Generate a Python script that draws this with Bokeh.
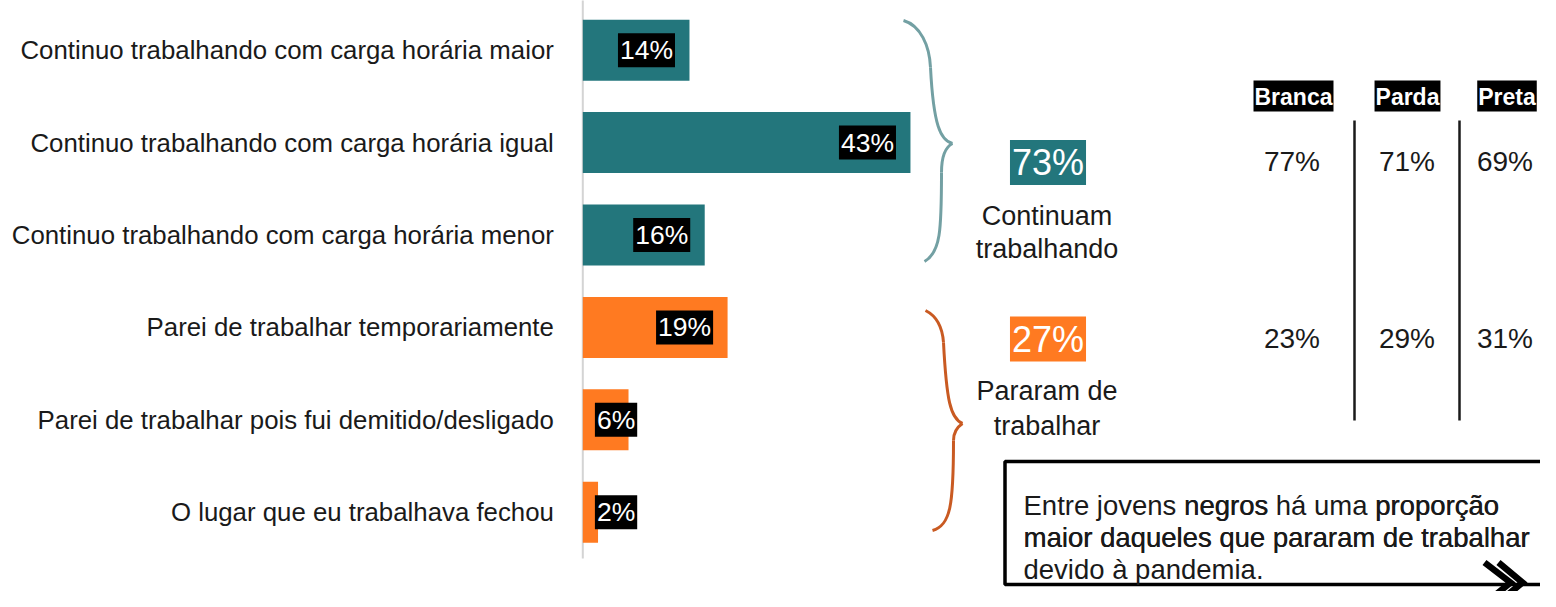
from bokeh.plotting import figure
from bokeh.models import Range1d
from bokeh.core.properties import value
from bokeh.embed import file_html
from bokeh.resources import INLINE

# ---------------- data ----------------
categories = [
    "Continuo trabalhando com carga horária maior",
    "Continuo trabalhando com carga horária igual",
    "Continuo trabalhando com carga horária menor",
    "Parei de trabalhar temporariamente",
    "Parei de trabalhar pois fui demitido/desligado",
    "O lugar que eu trabalhava fechou",
]
values = [14, 43, 16, 19, 6, 2]
bar_group = [0, 0, 0, 1, 1, 1]

group_totals = [73, 27]
group_line1 = ["Continuam", "Pararam de"]
group_line2 = ["trabalhando", "trabalhar"]

races = ["Branca", "Parda", "Preta"]
race_continuam = [77, 71, 69]
race_pararam = [23, 29, 31]

note_line1 = [("Entre jovens", False), ("negros", True), ("há uma", False), ("proporção", True)]
note_line2 = "maior daqueles que pararam de trabalhar"
note_line3 = "devido à pandemia."

# ---------------- style ----------------
TEAL = "#23767c"
ORANGE = "#ff7a21"
GROUP_COLORS = [TEAL, ORANGE]
BRACE_COLORS = ["#73a0a3", "#c95a22"]
TXT = "#1a1a1a"
FONT = value("Liberation Sans")

W, H = 1540, 591
PX0, PY0 = 0, 0          # picture origin
AX, SC = 582.3, 7.62     # x pixel of 0 %, pixels per %
ROW0, ROWD = 49.7, 92.4  # y pixel of first row centre, row pitch

p = figure(width=W, height=H, output_backend="svg", toolbar_location=None, tools="",
           x_range=Range1d((PX0 - AX) / SC, (PX0 + W - AX) / SC),
           y_range=Range1d((PY0 + H - ROW0) / ROWD, (PY0 - ROW0) / ROWD),
           x_axis_type=None, y_axis_type=None, min_border=0)
p.outline_line_color = None
p.background_fill_color = "white"
p.border_fill_color = "white"
p.extra_x_ranges = {"px": Range1d(PX0, PX0 + W)}
p.extra_y_ranges = {"px": Range1d(PY0 + H, PY0)}

rows = list(range(len(categories)))

# axis line
p.segment(x0=[0], x1=[0], y0=[rows[0] - 0.6], y1=[rows[-1] + 0.5], line_color="#d4d4d4", line_width=2)

# bars
p.hbar(y=rows, left=0, right=values, height=0.66,
       fill_color=[GROUP_COLORS[g] for g in bar_group], line_color=None)

# bar value labels (black boxes)
lab_x = [max(v - 1.9, 7.14) for v in values]
p.text(x=lab_x, y=rows, text=[f"{v}%" for v in values], text_align="right", text_baseline="middle",
       text_font=FONT, text_font_size="26.5px", text_color="white",
       background_fill_color="black", padding=2)

# category labels
p.text(x=[-3.8] * len(rows), y=rows, text=categories, text_align="right", text_baseline="middle",
       text_font=FONT, text_font_size="25.8px", text_color=TXT)

# braces
braces = [
    [((903, 20), (920, 25), (929, 45), (930, 67)),
     ((930, 67), (933, 125), (940, 140), (952, 143)),
     ((952, 143), (944, 147), (941, 158), (941, 172)),
     ((941, 172), (941, 230), (940, 252), (924, 261))],
    [((925, 310), (937, 316), (942, 328), (943, 342)),
     ((943, 342), (946, 400), (950, 418), (962, 423)),
     ((962, 423), (956, 427), (953, 432), (953, 440)),
     ((953, 440), (953, 505), (950, 525), (932, 530))],
]
for b, col in zip(braces, BRACE_COLORS):
    p.bezier(x0=[s[0][0] for s in b], y0=[s[0][1] for s in b],
             cx0=[s[1][0] for s in b], cy0=[s[1][1] for s in b],
             cx1=[s[2][0] for s in b], cy1=[s[2][1] for s in b],
             x1=[s[3][0] for s in b], y1=[s[3][1] for s in b],
             line_color=col, line_width=3, x_range_name="px", y_range_name="px")

# group totals
gx = 1047.5
for tot, l1, l2, col, yc, yb1, yb2 in zip(group_totals, group_line1, group_line2, GROUP_COLORS,
                                           [162, 338.5], [215, 390], [248, 425]):
    p.text(x=[gx], y=[yc], text=[f"{tot}%"], text_align="center", text_baseline="middle",
           text_font=FONT, text_font_size="36px", text_color="white",
           background_fill_color=col, padding=2, x_range_name="px", y_range_name="px")
    p.text(x=[gx - 1, gx - 1], y=[yb1, yb2], text=[l1, l2], text_align="center",
           text_baseline="alphabetic", text_font=FONT, text_font_size="27px", text_color=TXT,
           x_range_name="px", y_range_name="px")

# race table (shifted slightly left so that it fits inside the canvas)
TX = -11
rx = [1304 + TX, 1418 + TX, 1517.5 + TX]
p.text(x=rx, y=[95.5] * 3, text=races, text_align="center", text_baseline="middle",
       text_font=FONT, text_font_size="23px", text_font_style="bold", text_color="white",
       background_fill_color="black", padding=dict(left=1, right=1, top=3, bottom=2),
       x_range_name="px", y_range_name="px")
vx = [1302.5 + TX, 1417.5 + TX, 1515.5 + TX]
p.text(x=vx, y=[161] * 3, text=[f"{v}%" for v in race_continuam], text_align="center",
       text_baseline="middle", text_font=FONT, text_font_size="28px", text_color=TXT,
       x_range_name="px", y_range_name="px")
p.text(x=vx, y=[337.5] * 3, text=[f"{v}%" for v in race_pararam], text_align="center",
       text_baseline="middle", text_font=FONT, text_font_size="28px", text_color=TXT,
       x_range_name="px", y_range_name="px")
p.segment(x0=[1365 + TX, 1470 + TX], x1=[1365 + TX, 1470 + TX], y0=[120, 120], y1=[420, 420],
          line_color="#1a1a1a", line_width=2.5, x_range_name="px", y_range_name="px")

# note box
p.quad(left=[1004.5], right=[1575], top=[461], bottom=[584], fill_color=None,
       line_color="black", line_width=3.5, x_range_name="px", y_range_name="px")
NFS = 27.5
em = {"Entre jovens": 5.558, "negros": 3.057, "há uma": 3.335, "proporção": 4.502}
SPACE = 0.278
nx = 1023
for seg, bold in note_line1:
    xs = [nx, nx + 0.35] if bold else [nx]
    p.text(x=xs, y=[504.5] * len(xs), text=[seg] * len(xs), text_align="left", text_baseline="alphabetic",
           text_font=FONT, text_font_size=f"{NFS}px", text_color=TXT,
           x_range_name="px", y_range_name="px")
    nx += (em[seg] + SPACE) * NFS
p.text(x=[1023, 1023.35], y=[536.5] * 2, text=[note_line2] * 2, text_align="left", text_baseline="alphabetic",
       text_font=FONT, text_font_size=f"{NFS}px", text_color=TXT, x_range_name="px", y_range_name="px")
p.text(x=[1023], y=[568.5], text=[note_line3], text_align="left", text_baseline="alphabetic",
       text_font=FONT, text_font_size=f"{NFS}px", text_color=TXT, x_range_name="px", y_range_name="px")

# chevrons
p.multi_line(xs=[[1484, 1510, 1486], [1498, 1522, 1498]], ys=[[562, 582, 602], [562, 582, 602]],
             line_color="black", line_width=6.5, line_join="miter", x_range_name="px", y_range_name="px")

open("out.html", "w").write(file_html(p, INLINE))
